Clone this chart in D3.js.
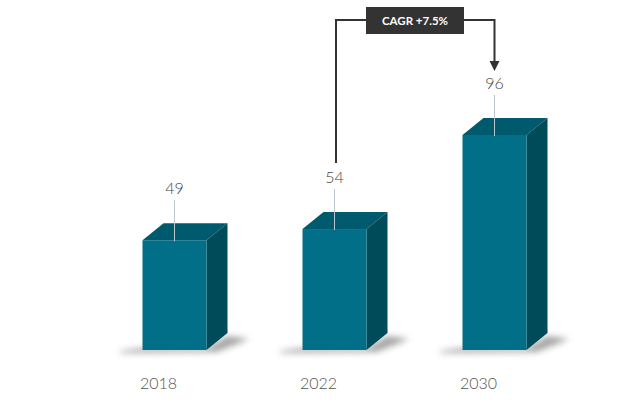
<!DOCTYPE html>
<html><head><meta charset="utf-8">
<script src="https://cdn.jsdelivr.net/npm/d3@7"></script>
<style>
html,body{margin:0;padding:0;background:#fff;}
svg{display:block;}
</style></head>
<body>
<svg id="chart" width="629" height="415"></svg>
<script>
const years = ["2018", "2022", "2030"];
const values = [49, 54, 96];
const cagrLabel = "CAGR +7.5%";

const svg = d3.select("#chart");
const x = d3.scalePoint().domain(years).range([174.5, 494.5]);
const y = d3.scaleLinear().domain([0, 100]).range([350, 126]);
const bw = 64, dx = 21, dy = 17;

const defs = svg.append("defs");
const f = defs.append("filter").attr("id","blur").attr("x","-50%").attr("y","-200%").attr("width","200%").attr("height","500%");
f.append("feGaussianBlur").attr("stdDeviation", 3);

const data = years.map((yr,i)=>({yr, v: values[i]}));

// shadows
svg.append("g").selectAll("path").data(data).join("path")
  .attr("filter","url(#blur)")
  .attr("fill","#888")
  .attr("opacity",0.75)
  .attr("d", d => {
    const l = x(d.yr) - bw/2, r = l + bw;
    const b = y(0);
    return `M${l-22},${b+1} L${l},${b-2} L${r},${b-2} L${r+dx},${b-dy+3} L${r+dx+22},${b-dy+6} L${r+10},${b+2} L${l-22},${b+3} Z`;
  });

const bars = svg.append("g").selectAll("g").data(data).join("g");
// top face
bars.append("path").attr("fill","#005a6d").attr("d", d => {
  const l = x(d.yr) - bw/2, r = l + bw, t = y(d.v);
  return `M${l},${t} L${l+dx},${t-dy} L${r+dx},${t-dy} L${r},${t} Z`;
});
// side face
bars.append("path").attr("fill","#004b5a").attr("d", d => {
  const r = x(d.yr) + bw/2, t = y(d.v), b = y(0);
  return `M${r},${t} L${r+dx},${t-dy} L${r+dx},${b-dy} L${r},${b} Z`;
});
// front face
bars.append("rect")
  .attr("x", d => x(d.yr) - bw/2).attr("y", d => y(d.v))
  .attr("width", bw).attr("height", d => y(0) - y(d.v))
  .attr("fill","#006f87");

// leader lines
bars.append("line")
  .attr("x1", d => x(d.yr)).attr("x2", d => x(d.yr))
  .attr("y1", d => y(d.v) - 40).attr("y2", d => y(d.v) + 1)
  .attr("stroke","#b9c6cc").attr("stroke-width",1);

// value labels
bars.append("text")
  .attr("x", d => x(d.yr)).attr("y", d => y(d.v) - 46)
  .attr("text-anchor","middle")
  .attr("font-family","Lato, 'DejaVu Sans', sans-serif").attr("font-weight",300)
  .attr("font-size",16).attr("fill","#444")
  .text(d => d.v);

// axis labels
svg.append("g").selectAll("text").data(years).join("text")
  .attr("x", d => x(d) - 16).attr("y", 389)
  .attr("text-anchor","middle")
  .attr("font-family","Lato, 'DejaVu Sans', sans-serif").attr("font-weight",300)
  .attr("font-size",16).attr("fill","#555")
  .text(d => d);

// CAGR annotation
const x2 = x(years[1]) + 1.5, x3 = x(years[2]);
const ly = 20;
const ann = svg.append("g");
ann.append("path")
  .attr("d", `M${x2},${y(values[1]) - 66} L${x2},${ly} L370,${ly} M460,${ly} L${x3},${ly} L${x3},${62}`)
  .attr("fill","none").attr("stroke","#333").attr("stroke-width",2);
ann.append("path")
  .attr("d", `M${x3-5},${61} L${x3+5},${61} L${x3},${71} Z`).attr("fill","#333");
ann.append("rect").attr("x",366).attr("y",7).attr("width",98).attr("height",27).attr("fill","#333");
ann.append("text").attr("x",415).attr("y",25).attr("text-anchor","middle")
  .attr("font-family","Lato, 'DejaVu Sans', sans-serif").attr("font-weight",700)
  .attr("font-size",11.5).attr("fill","#fff").text(cagrLabel);
</script>
</body></html>
